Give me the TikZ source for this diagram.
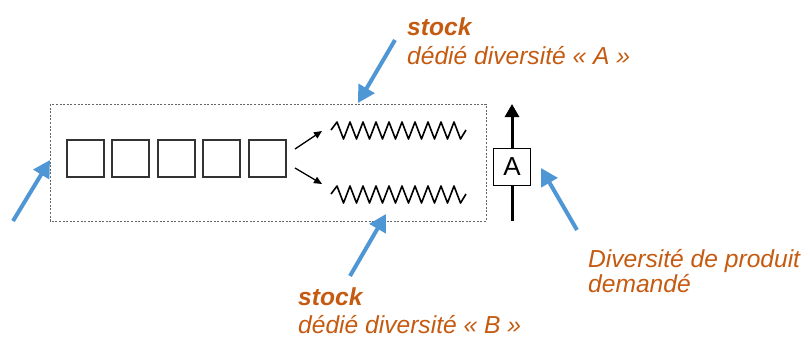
\documentclass[tikz,border=0pt]{standalone}
\usepackage{fontspec}
\setmainfont{Liberation Sans}
\usetikzlibrary{arrows.meta}
\definecolor{bluearr}{RGB}{79,150,213}
\definecolor{orangetxt}{RGB}{197,90,17}
\tikzset{
  slot/.style={draw=black!80, line width=2pt, minimum size=37pt, inner sep=0pt},
  boxA/.style={draw=black, line width=1.6pt, minimum size=37pt, inner sep=0pt, fill=white, font=\fontsize{26}{30}\selectfont},
  bluearrow/.style={draw=bluearr, line width=4pt, -{Triangle[length=17pt,width=18pt]}},
  smallarrow/.style={draw=black, line width=1.3pt, -{Triangle[length=8pt,width=7pt]}},
  flowarrow/.style={draw=black, line width=3pt},
  zig/.style={draw=black, line width=1.6pt, line join=round},
  lbl/.style={anchor=base west, inner sep=0pt, text=orangetxt, font=\fontsize{24.6}{29}\selectfont\itshape},
  lblb/.style={lbl, font=\fontsize{24.6}{29}\selectfont\bfseries\itshape},
  frame/.style={draw=black!60, line width=1pt, dash pattern=on 2pt off 1.6pt}
}
\begin{document}
\begin{tikzpicture}[x=1pt,y=-1pt]
\useasboundingbox (0,0) rectangle (803,338);
% dashed frame
\draw[frame] (50,104) rectangle (486,221);
% squares
\foreach \i in {0,...,4}{
  \node[slot] (s\i) at ({85.5+45.4*\i},158) {};
}
% small arrows
\coordinate (sa1) at (295,149);
\coordinate (sa1e) at (322,131);
\coordinate (sa2) at (295,168);
\coordinate (sa2e) at (322,184);
\draw[smallarrow] (sa1) -- (sa1e);
\draw[smallarrow] (sa2) -- (sa2e);
% zigzags
\foreach \dy in {0,64}{
  \draw[zig] (331,130+\dy)
    \foreach \k in {0,...,9}{ -- ({337+13*\k},122+\dy) -- ({343.5+13*\k},139+\dy) }
    -- (466,130+\dy);
}
% vertical flow with box A
\node[boxA] (A) at (512,167) {A};
\coordinate (vbot) at (512,221);
\coordinate (vtop) at (512,104);
\draw[flowarrow] (vbot) -- (A.south);
\draw[flowarrow, -{Triangle[length=13pt,width=14pt]}] (A.north) -- (vtop);
% labels
\node[lblb] (t1) at (407,35) {stock};
\node[lbl] (t2) at (407,64) {dédié diversité «~A~»};
\node[lblb] (b1) at (298,305) {stock};
\node[lbl] (b2) at (298,333) {dédié diversité «~B~»};
\node[lbl] (r1) at (588,267) {Diversité de produit};
\node[lbl] (r2) at (588,292) {demandé};
% blue arrows
\coordinate (l0) at (13,221);  \coordinate (l1) at (50,160);
\coordinate (u0) at (395,40);  \coordinate (u1) at (358,103);
\coordinate (d0) at (350,276); \coordinate (d1) at (386,214);
\coordinate (r0) at (577,230); \coordinate (rr1) at (541,168);
\draw[bluearrow] (l0) -- (l1);
\draw[bluearrow] (u0) -- (u1);
\draw[bluearrow] (d0) -- (d1);
\draw[bluearrow] (r0) -- (rr1);
\end{tikzpicture}
\end{document}
